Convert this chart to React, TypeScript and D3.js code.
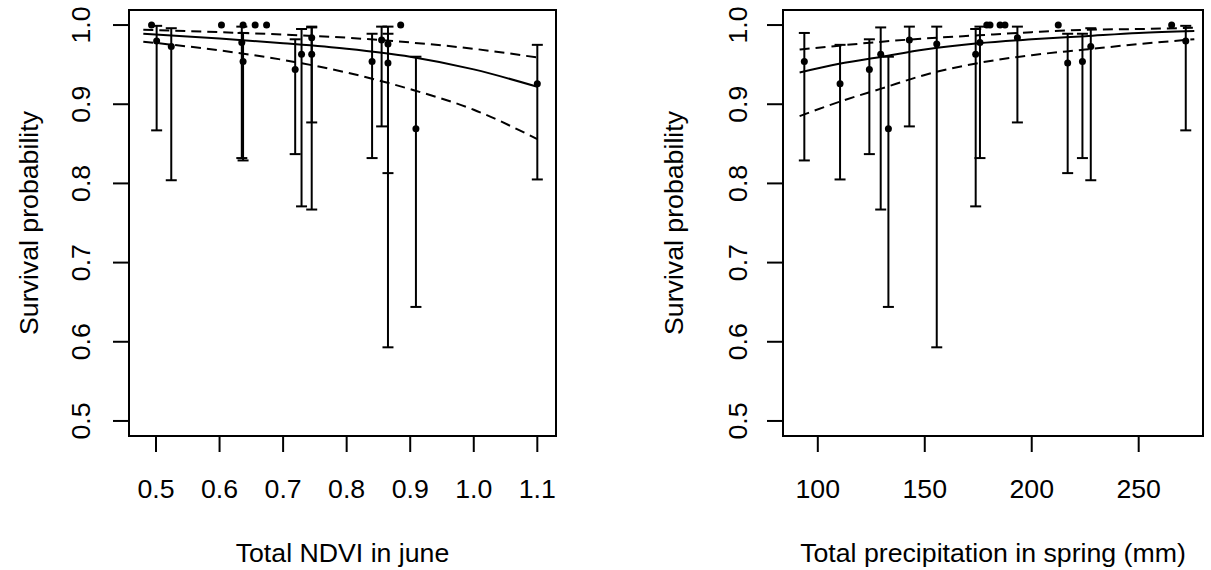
import React from "react";
import * as d3 from "d3";

// ---- data ----
const ndvi = [0.501, 0.524, 0.635, 0.637, 0.719, 0.729, 0.745, 0.745, 0.84, 0.855, 0.865, 0.865, 0.909, 1.1, 0.493, 0.603, 0.637, 0.656, 0.674, 0.885];
const precip = [272.0, 227.6, 175.8, 93.7, 124.1, 173.8, 129.4, 193.3, 223.7, 142.8, 155.6, 216.8, 133.0, 110.4, 179.0, 180.5, 185.2, 187.5, 212.4, 265.4];
const survival = [0.98, 0.973, 0.978, 0.954, 0.944, 0.963, 0.963, 0.984, 0.954, 0.981, 0.976, 0.952, 0.869, 0.926, 1, 1, 1, 1, 1, 1];
const lower = [0.867, 0.804, 0.832, 0.829, 0.837, 0.771, 0.767, 0.877, 0.832, 0.872, 0.593, 0.813, 0.644, 0.805, 1, 1, 1, 1, 1, 1];
const upper = [0.999, 0.996, 0.998, 0.99, 0.982, 0.995, 0.997, 0.998, 0.989, 0.998, 0.998, 0.989, 0.96, 0.975, 1, 1, 1, 1, 1, 1];

const ndviGrid = [0.48, 0.6, 0.7, 0.8, 0.9, 1.0, 1.1];
const ndviFit = [0.989, 0.983, 0.977, 0.97, 0.96, 0.944, 0.922];
const ndviUpper = [0.994, 0.991, 0.988, 0.984, 0.978, 0.97, 0.959];
const ndviLower = [0.979, 0.968, 0.956, 0.94, 0.919, 0.893, 0.856];

const precipGrid = [91.5, 110, 130, 150, 175, 200, 225, 250, 276];
const precipFit = [0.94, 0.951, 0.96, 0.969, 0.977, 0.982, 0.986, 0.99, 0.9925];
const precipUpper = [0.969, 0.974, 0.979, 0.983, 0.987, 0.991, 0.994, 0.995, 0.9966];
const precipLower = [0.885, 0.903, 0.92, 0.937, 0.952, 0.962, 0.969, 0.976, 0.982];

const yTicks = [0.5, 0.6, 0.7, 0.8, 0.9, 1.0];
const ndviTicks = [0.5, 0.6, 0.7, 0.8, 0.9, 1.0, 1.1];
const precipTicks = [100, 150, 200, 250];

const FONT = "'Liberation Sans', Arial, Helvetica, sans-serif";
const FS = 26.7;

type PanelProps = {
  left: number;
  right: number;
  xDomain: [number, number];
  xs: number[];
  xTicks: number[];
  fmt: (v: number) => string;
  grid: number[];
  fit: number[];
  up: number[];
  lo: number[];
  xTitle: string;
  yTickBase: number;
  yTitleBase: number;
};

const TOP = 10;
const BOTTOM = 436;

function Panel(p: PanelProps) {
  const x = d3.scaleLinear().domain(p.xDomain).range([p.left, p.right]);
  const y = d3.scaleLinear().domain([0.481, 1.019]).range([BOTTOM, TOP]);
  const line = (vals: number[]) =>
    d3
      .line<number>()
      .x((_, i) => x(p.grid[i]))
      .y((v) => y(v))
      .curve(d3.curveMonotoneX)(vals) as string;
  const cx = (p.left + p.right) / 2;
  const cy = (TOP + BOTTOM) / 2;
  const cap = 5.5;
  return (
    <g>
      <rect x={p.left} y={TOP} width={p.right - p.left} height={BOTTOM - TOP} fill="none" stroke="#000" strokeWidth={2} />
      {yTicks.map((t) => (
        <g key={"y" + t}>
          <line x1={p.left - 16} x2={p.left} y1={y(t)} y2={y(t)} stroke="#000" strokeWidth={2} />
          <text
            transform={`translate(${p.yTickBase},${y(t)}) rotate(-90)`}
            textAnchor="middle"
            fontSize={FS}
            fontFamily={FONT}
            fill="#000"
          >
            {t.toFixed(1)}
          </text>
        </g>
      ))}
      <text
        transform={`translate(${p.yTitleBase},${cy}) rotate(-90)`}
        textAnchor="middle"
        fontSize={FS}
        fontFamily={FONT}
        fill="#000"
      >
        Survival probability
      </text>
      {p.xTicks.map((t) => (
        <g key={"x" + t}>
          <line x1={x(t)} x2={x(t)} y1={BOTTOM} y2={BOTTOM + 16} stroke="#000" strokeWidth={2} />
          <text x={x(t)} y={498} textAnchor="middle" fontSize={FS} fontFamily={FONT} fill="#000">
            {p.fmt(t)}
          </text>
        </g>
      ))}
      <text x={cx} y={562} textAnchor="middle" fontSize={FS} fontFamily={FONT} fill="#000">
        {p.xTitle}
      </text>
      <path d={line(p.fit)} fill="none" stroke="#000" strokeWidth={2} />
      <path d={line(p.up)} fill="none" stroke="#000" strokeWidth={2} strokeDasharray="10,6" />
      <path d={line(p.lo)} fill="none" stroke="#000" strokeWidth={2} strokeDasharray="10,6" />
      {p.xs.map((xv, i) =>
        upper[i] - lower[i] > 0.001 ? (
          <g key={"e" + i} stroke="#000" strokeWidth={2}>
            <line x1={x(xv)} x2={x(xv)} y1={y(lower[i])} y2={y(upper[i])} />
            <line x1={x(xv) - cap} x2={x(xv) + cap} y1={y(lower[i])} y2={y(lower[i])} />
            <line x1={x(xv) - cap} x2={x(xv) + cap} y1={y(upper[i])} y2={y(upper[i])} />
          </g>
        ) : null
      )}
      {p.xs.map((xv, i) => (
        <circle key={"p" + i} cx={x(xv)} cy={y(survival[i])} r={3.5} fill="#000" />
      ))}
    </g>
  );
}

export default function App() {
  return (
    <svg
      width={1211}
      height={570}
      style={{ position: "absolute", left: 0, top: 0, background: "#fff" }}
    >
      <rect x={0} y={0} width={1211} height={570} fill="#fff" />
      <Panel
        left={129}
        right={556}
        xDomain={[0.4575, 1.1294]}
        xs={ndvi}
        xTicks={ndviTicks}
        fmt={(v) => v.toFixed(1)}
        grid={ndviGrid}
        fit={ndviFit}
        up={ndviUpper}
        lo={ndviLower}
        xTitle="Total NDVI in june"
        yTickBase={90}
        yTitleBase={38}
      />
      <Panel
        left={783}
        right={1203}
        xDomain={[83.73, 280.06]}
        xs={precip}
        xTicks={precipTicks}
        fmt={(v) => String(v)}
        grid={precipGrid}
        fit={precipFit}
        up={precipUpper}
        lo={precipLower}
        xTitle="Total precipitation in spring (mm)"
        yTickBase={747}
        yTitleBase={683}
      />
    </svg>
  );
}
